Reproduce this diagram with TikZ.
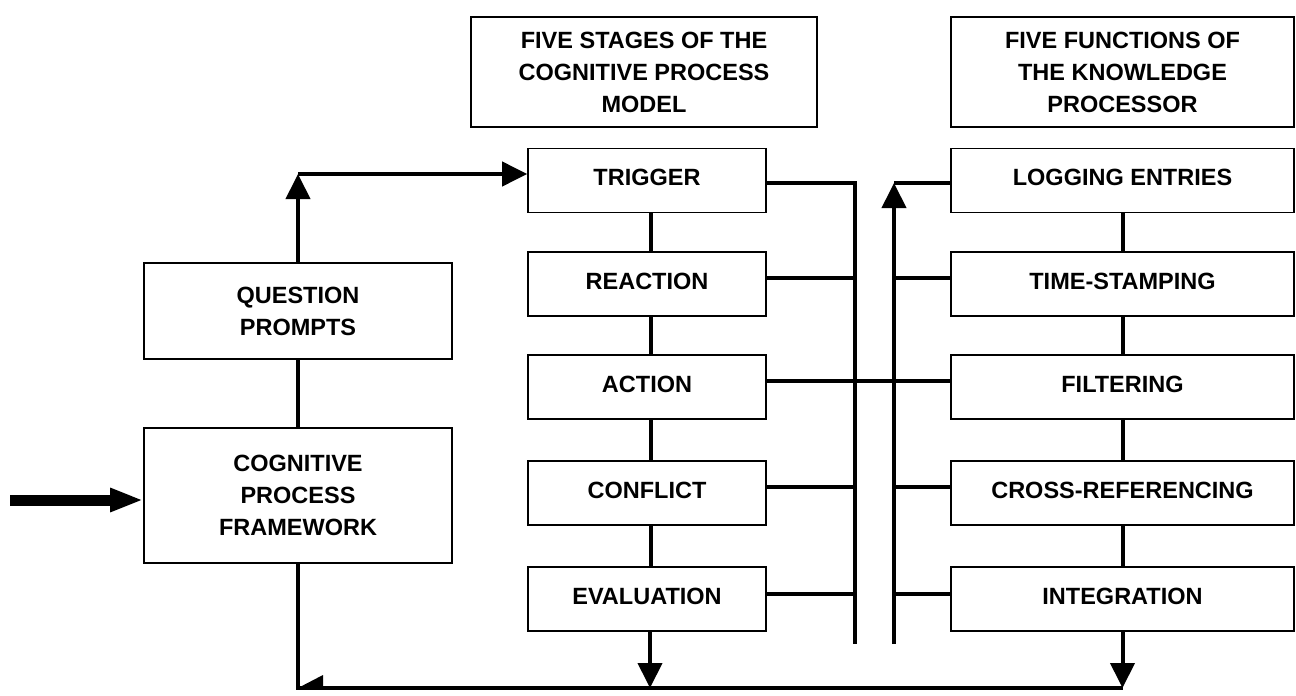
\documentclass[tikz,border=0pt]{standalone}
\usepackage{fontspec}
\setmainfont{Liberation Sans}
\usetikzlibrary{arrows.meta}
\begin{document}
\begin{tikzpicture}[x=1pt,y=-1pt,
  box/.style={draw, line width=1.6pt, align=center, inner sep=0pt,
    font=\bfseries\fontsize{23.5}{32}\selectfont},
  lbox/.style={box, minimum width=238pt, minimum height=64pt, text depth=6pt},
  rbox/.style={box, minimum width=343pt, minimum height=64pt, text depth=6pt},
  link/.style={line width=4pt},
  arr/.style={line width=4pt, -{Triangle[length=25pt,width=24pt]}},
]
\useasboundingbox (0,0) rectangle (1296,696);

% column headings
\node[box, minimum width=346pt, minimum height=110pt] (hs) at (644,72)
  {FIVE STAGES OF THE\\COGNITIVE PROCESS\\MODEL};
\node[box, minimum width=343pt, minimum height=110pt] (hf) at (1122.5,72)
  {FIVE FUNCTIONS OF\\THE KNOWLEDGE\\PROCESSOR};

% stages of the process model
\node[lbox] (trig)  at (647,180.5) {TRIGGER};
\node[lbox] (reac)  at (647,284)   {REACTION};
\node[lbox] (act)   at (647,387)   {ACTION};
\node[lbox] (conf)  at (647,493)   {CONFLICT};
\node[lbox] (eval)  at (647,599)   {EVALUATION};

% functions of the knowledge processor
\node[rbox] (logg)  at (1122.5,180.5) {LOGGING ENTRIES};
\node[rbox] (stamp) at (1122.5,284)   {TIME-STAMPING};
\node[rbox] (filt)  at (1122.5,387)   {FILTERING};
\node[rbox] (xref)  at (1122.5,493)   {CROSS-REFERENCING};
\node[rbox] (integ) at (1122.5,599)   {INTEGRATION};

% framework column
\node[box, minimum width=308pt, minimum height=96pt]  (qp)  at (298,311)
  {QUESTION\\PROMPTS};
\node[box, minimum width=308pt, minimum height=135pt] (cpf) at (298,495.5)
  {COGNITIVE\\PROCESS\\FRAMEWORK};

% bus and routing points
\coordinate (lbt) at (855,183);
\coordinate (lbb) at (855,644);
\coordinate (rbt) at (894,183);
\coordinate (rbb) at (894,644);
\coordinate (qpt) at (298,174);
\coordinate (bl)  at (298,688);
\coordinate (br)  at (1123,688);
\coordinate (inl) at (10,500);

% input into the framework
\draw[line width=11pt, -{Triangle[length=33pt,width=22pt]}] (inl) -- (cpf.west |- inl);

% framework -> prompts -> trigger
\draw[link] (qp.south) -- (cpf.north);
\draw[arr] (qp.north) -- (qpt);
\draw[arr] (qpt) -- (trig.west |- qpt);

% links between the stages
\draw[link] ([xshift=4pt]trig.south) -- ([xshift=4pt]reac.north);
\draw[link] ([xshift=4pt]reac.south) -- ([xshift=4pt]act.north);
\draw[link] ([xshift=4pt]act.south)  -- ([xshift=4pt]conf.north);
\draw[link] ([xshift=4pt]conf.south) -- ([xshift=4pt]eval.north);

% links between the functions
\draw[link] (logg.south)  -- (stamp.north);
\draw[link] (stamp.south) -- (filt.north);
\draw[link] (filt.south)  -- (xref.north);
\draw[link] (xref.south)  -- (integ.north);

% stages onto the left bus
\draw[link] (trig.east |- lbt) -- (lbt) -- (lbb);
\draw[link] ([yshift=6pt]reac.east) -- ([yshift=6pt]reac.east -| lbt);
\draw[link] ([yshift=6pt]conf.east) -- ([yshift=6pt]conf.east -| lbt);
\draw[link] ([yshift=5pt]eval.east) -- ([yshift=5pt]eval.east -| lbt);
\draw[link] ([yshift=6pt]act.east)  -- ([yshift=6pt]act.east -| filt.west);

% right bus into the functions
\draw[arr] (rbb) -- (rbt);
\draw[link] (rbt) -- (logg.west |- rbt);
\draw[link] ([yshift=6pt]stamp.west -| rbt) -- ([yshift=6pt]stamp.west);
\draw[link] ([yshift=6pt]xref.west -| rbt)  -- ([yshift=6pt]xref.west);
\draw[link] ([yshift=5pt]integ.west -| rbt) -- ([yshift=5pt]integ.west);

% feedback along the bottom
\draw[arr] ([xshift=3pt]eval.south) -- ([xshift=3pt]eval.south |- br);
\draw[arr] (integ.south) -- (integ.south |- br);
\draw[link] (cpf.south) -- (bl) -- (br);
\fill (bl) -- ++(25,-13) -- ++(0,13) -- cycle;
\end{tikzpicture}
\end{document}
